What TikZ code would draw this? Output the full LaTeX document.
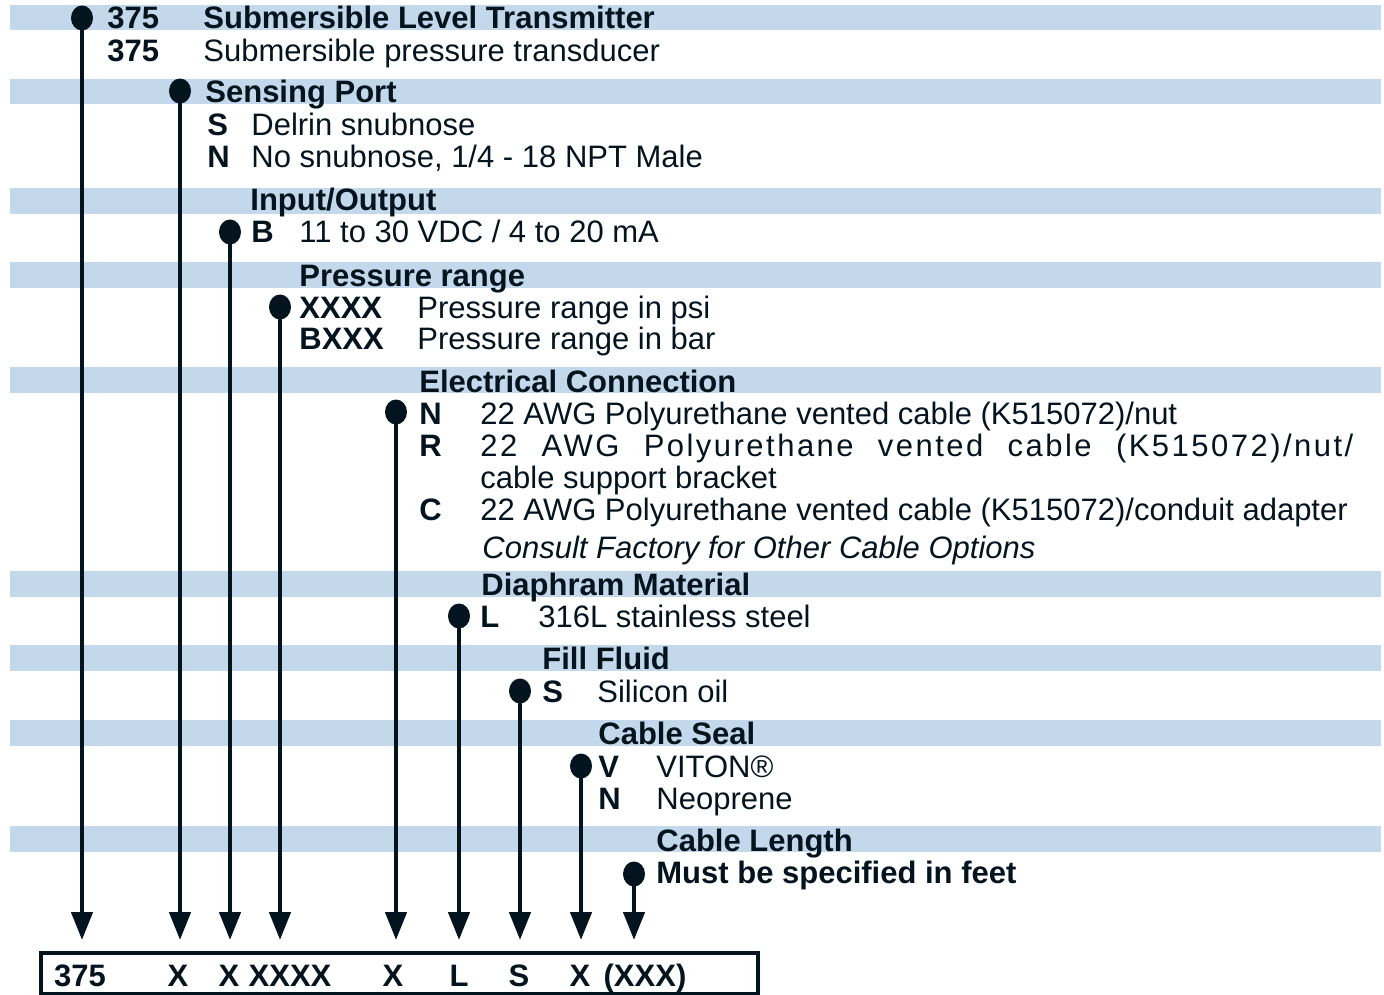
\documentclass[tikz,border=0pt]{standalone}
\usepackage{fontspec}
\setmainfont{Liberation Sans}
\usetikzlibrary{arrows.meta,shapes.geometric}
\definecolor{band}{HTML}{C3D8EB}
\definecolor{ink}{HTML}{04141F}
\begin{document}
\begin{tikzpicture}[x=0.5pt,y=-0.5pt,
  every node/.style={text=ink},
  bandbar/.style={fill=band, draw=none},
  lbl/.style={anchor=base west, inner sep=0pt, font=\fontsize{15.5}{18}\selectfont},
  hd/.style={lbl, font=\fontsize{15.5}{18}\selectfont\bfseries},
  ital/.style={lbl, font=\fontsize{15.5}{18}\selectfont\itshape},
  dotmark/.style={ellipse, fill=ink, draw=none, inner sep=0pt, minimum width=11pt, minimum height=12.5pt},
  lead/.style={draw=ink, line width=2.25pt, -{Triangle[length=14pt,width=10.5pt]}},
  codebox/.style={draw=ink, line width=2pt, inner sep=0pt, minimum width=358.5pt, minimum height=20.5pt, anchor=north west},
  boxtxt/.style={anchor=base, inner sep=0pt, font=\fontsize{15.5}{18}\selectfont\bfseries}]
\useasboundingbox (0,0) rectangle (1384,994);
% bands
\foreach \t/\b in {5/30,79/104,188/214,262/288,367/393,571/597,645/671,720/746,826/852}
  \fill[bandbar] (10,\t) rectangle (1381,\b);
% texts
\node[hd] (t1a) at (107,29) {375};
\node[hd] (t1b) at (203,29) {Submersible Level Transmitter};
\node[hd] (t2a) at (107,62) {375};
\node[lbl] (t2b) at (203,62) {Submersible pressure transducer};
\node[hd] (h2) at (205,103) {Sensing Port};
\node[hd] (s2a) at (207,136) {S};
\node[lbl] (s2b) at (251,136) {Delrin snubnose};
\node[hd] (n2a) at (207,168) {N};
\node[lbl] (n2b) at (251,168) {No snubnose, 1/4 - 18 NPT Male};
\node[hd] (h3) at (250,211) {Input/Output};
\node[hd] (b3a) at (251,243) {B};
\node[lbl] (b3b) at (299,243) {11 to 30 VDC / 4 to 20 mA};
\node[hd] (h4) at (299,286) {Pressure range};
\node[hd] (x4a) at (299,318) {XXXX};
\node[lbl] (x4b) at (417,318) {Pressure range in psi};
\node[hd] (y4a) at (299,350) {BXXX};
\node[lbl] (y4b) at (417,350) {Pressure range in bar};
\node[hd] (h5) at (419,392) {Electrical Connection};
\node[hd] (n5a) at (419,424) {N};
\node[lbl] (n5b) at (480,424) {22 AWG Polyurethane vented cable (K515072)/nut};
\node[hd] (r5a) at (419,456) {R};
\node[lbl] (r5b) at (480,456) {\makebox[436.5pt][s]{\addfontfeature{LetterSpace=8}22 AWG Polyurethane vented cable (K515072)/nut/}};
\node[lbl] (r5c) at (480,488) {cable support bracket};
\node[hd] (c5a) at (419,520) {C};
\node[lbl] (c5b) at (480,520) {22 AWG Polyurethane vented cable (K515072)/conduit adapter};
\node[ital] (c5c) at (482,558) {Consult Factory for Other Cable Options};
\node[hd] (h6) at (481,595) {Diaphram Material};
\node[hd] (l6a) at (480,627) {L};
\node[lbl] (l6b) at (538,627) {316L stainless steel};
\node[hd] (h7) at (542,669) {Fill Fluid};
\node[hd] (s7a) at (542,702) {S};
\node[lbl] (s7b) at (597,702) {Silicon oil};
\node[hd] (h8) at (598,744) {Cable Seal};
\node[hd] (v8a) at (598,777) {V};
\node[lbl] (v8b) at (656,777) {VITON®};
\node[hd] (n8a) at (598,809) {N};
\node[lbl] (n8b) at (656,809) {Neoprene};
\node[hd] (h9) at (656,851) {Cable Length};
\node[hd] (m9) at (656,883) {Must be specified in feet};
% dots
\node[dotmark] (d1) at (82,18) {};
\node[dotmark] (d2) at (180,91) {};
\node[dotmark] (d3) at (230,232) {};
\node[dotmark] (d4) at (280,307) {};
\node[dotmark] (d5) at (396,412) {};
\node[dotmark] (d6) at (459,616) {};
\node[dotmark] (d7) at (520,691) {};
\node[dotmark] (d8) at (581,766) {};
\node[dotmark] (d9) at (634,874) {};
% arrow ends
\foreach \i/\x in {1/82,2/180,3/230,4/280,5/396,6/459,7/520,8/581,9/634}
  \coordinate (e\i) at (\x,940);
\foreach \i in {1,...,9}
  \draw[lead] (d\i.center) -- (e\i);
% code box
\node[codebox] (box) at (39,951) {};
\node[boxtxt] (k1) at (80,986) {375};
\node[boxtxt] (k2) at (178,986) {X};
\node[boxtxt] (k3) at (229,986) {X};
\node[boxtxt] (k4) at (290,986) {XXXX};
\node[boxtxt] (k5) at (393,986) {X};
\node[boxtxt] (k6) at (459,986) {L};
\node[boxtxt] (k7) at (519,986) {S};
\node[boxtxt] (k8) at (580,986) {X};
\node[boxtxt] (k9) at (645,986) {(XXX)};
\end{tikzpicture}
\end{document}
